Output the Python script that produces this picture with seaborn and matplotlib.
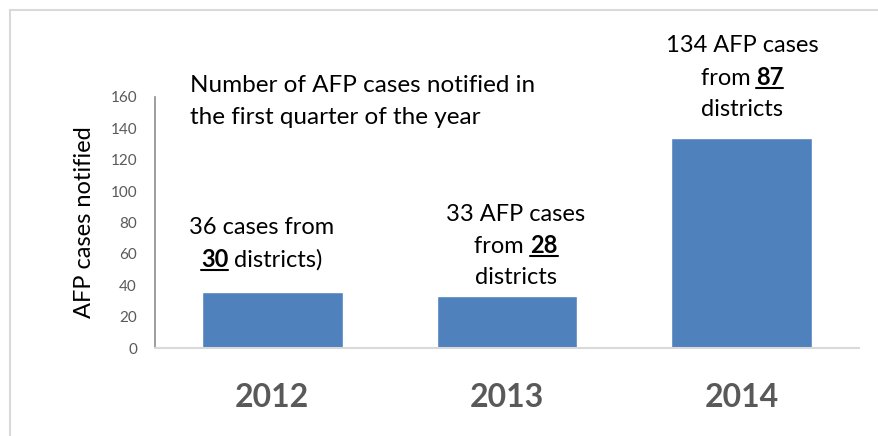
import matplotlib
matplotlib.use("Agg")
import matplotlib.pyplot as plt
import seaborn as sns
import pandas as pd
from matplotlib.patches import Rectangle
from matplotlib.lines import Line2D

# Data
years = ["2012", "2013", "2014"]
cases = [36, 33, 134]
districts = [30, 28, 87]

W, H = 879, 436
BAR = "#4f81bd"
GREY = "#595959"

sns.set_theme(style="white")
plt.rcParams["font.family"] = ["Lato", "DejaVu Sans"]

df = pd.DataFrame({"year": years, "cases": cases})

fig = plt.figure(figsize=(W / 100, H / 100), dpi=100)
ax = fig.add_axes([155 / W, 1 - 348 / H, (859 - 155) / W, (348 - 97) / H])

sns.barplot(data=df, x="year", y="cases", color=BAR, width=0.6,
            saturation=1, ax=ax)

ax.set_ylim(0, 160)
ax.set_yticks(range(0, 161, 20))
ax.set_xlim(-0.5, 2.5)
ax.set_xlabel("")
ax.set_ylabel("AFP cases notified", fontsize=17, color="black")
ax.yaxis.set_label_coords(-0.085, 0.5)
ax.tick_params(axis="y", length=0, pad=13, labelsize=11, labelcolor=GREY)
ax.tick_params(axis="x", length=0, pad=25, labelsize=23, labelcolor=GREY)
for lab in ax.get_xticklabels():
    lab.set_fontweight("bold")

sns.despine(ax=ax)
ax.spines["left"].set_color("#8c8c8c")
ax.spines["bottom"].set_color("#d9d9d9")
ax.spines["left"].set_linewidth(1.2)
ax.spines["bottom"].set_linewidth(1.5)

# outer chart border
fig.patches.append(Rectangle((10 / W, -0.2), 2, (H - 10) / H + 0.2,
                             transform=fig.transFigure, fill=False,
                             edgecolor="#d9d9d9", linewidth=1.5))

renderer = fig.canvas.get_renderer()


def text_width(s, bold, size):
    # measure with a sentinel so trailing / leading spaces count
    t1 = fig.text(0, 0, s + "|", fontsize=size,
                  fontweight="bold" if bold else "normal")
    t2 = fig.text(0, 0, "|", fontsize=size,
                  fontweight="bold" if bold else "normal")
    w = t1.get_window_extent(renderer).width - t2.get_window_extent(renderer).width
    t1.remove()
    t2.remove()
    return w


def rich_line(x, y, parts, size=17, ha="center"):
    # x, y in pixels from top-left of the figure
    widths = [text_width(s, b, size) for s, b in parts]
    x0 = x - sum(widths) / 2 if ha == "center" else x
    for (s, b), w in zip(parts, widths):
        fig.text(x0 / W, 1 - y / H, s, fontsize=size, color="black",
                 fontweight="bold" if b else "normal", va="baseline")
        if b:
            fig.lines.append(Line2D([x0 / W, (x0 + w) / W],
                                    [1 - (y + 3) / H] * 2,
                                    transform=fig.transFigure,
                                    color="black", linewidth=1.5))
        x0 += w


# title note
rich_line(190, 92, [("Number of AFP cases notified in", False)],
          size=17.5, ha="left")
rich_line(190, 124, [("the first quarter of the year", False)],
          size=17.5, ha="left")

# bar notes
rich_line(262, 234, [(f"{cases[0]} cases from", False)])
rich_line(262, 267, [(f"{districts[0]}", True), (" districts)", False)])

rich_line(516, 221, [(f"{cases[1]} AFP cases", False)])
rich_line(516, 253, [("from ", False), (f"{districts[1]}", True)])
rich_line(516, 284, [("districts", False)])

rich_line(742, 52, [(f"{cases[2]} AFP cases", False)])
rich_line(742, 85, [("from ", False), (f"{districts[2]}", True)])
rich_line(742, 116, [("districts", False)])

fig.savefig("out.png", dpi=100)
